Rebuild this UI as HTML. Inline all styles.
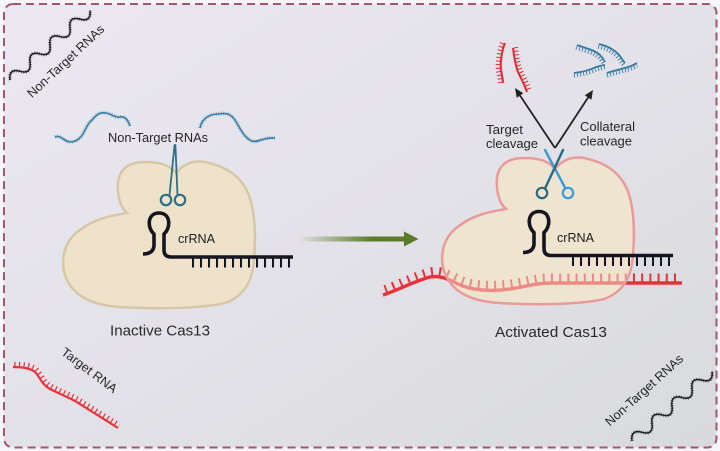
<!DOCTYPE html>
<html><head><meta charset="utf-8"><style>
html,body{margin:0;padding:0;background:#f6f5f8;}
svg{display:block;font-family:"Liberation Sans",Arial,sans-serif;}
</style></head><body>
<svg width="720" height="451" viewBox="0 0 720 451" xmlns="http://www.w3.org/2000/svg">
<defs>
<linearGradient id="bg" x1="0" y1="0" x2="1" y2="1">
<stop offset="0" stop-color="#ece8f1"/><stop offset="0.5" stop-color="#e3e2e8"/><stop offset="1" stop-color="#d9dadd"/>
</linearGradient>
<linearGradient id="ga" gradientUnits="userSpaceOnUse" x1="298" y1="0" x2="372" y2="0">
<stop offset="0" stop-color="#5b7b2a" stop-opacity="0"/><stop offset="1" stop-color="#5b7b2a" stop-opacity="1"/>
</linearGradient>
<path id="prot" d="M176,173 C170,165 160,162 145,162 C130,162 120,168 118,182 C117,195 120,207 127,213 C115,215 95,218 80,230 C65,240 60,258 65,275 C72,295 90,305 120,307 C150,309 200,309 225,303 C245,296 253,280 254,258 C256,235 255,210 248,193 C240,175 225,166 205,162 C192,160 182,165 176,173 Z"/>
<path id="wave" d="M0,0 q6.6,-10 13.25,0 t13.25,0 t13.25,0 t13.25,0 t13.25,0 t13.25,0 t13.25,0 t13.25,0"/>
<g id="cr">
<path d="M143,254 Q153,254 154,246 L154,234 C147,228 147,213 159,213 C171,213 171,228 164,234 L164,250 Q164,257 171,257 L293,257" fill="none" stroke="#15151f" stroke-width="3.6" stroke-linejoin="round"/>
<line x1="192" y1="262.5" x2="292" y2="262.5" stroke="#15151f" stroke-width="10" stroke-dasharray="2 6"/>
</g>
</defs>

<rect x="4" y="4" width="712.5" height="443.5" rx="9" fill="url(#bg)" stroke="#a4566f" stroke-width="2" stroke-dasharray="8 5"/>

<!-- top-left non target -->
<g transform="translate(10,80) rotate(-41)" fill="none" stroke="#1e1e24">
<use href="#wave" stroke-width="1.5"/>
<use href="#wave" stroke-width="3.6" stroke-dasharray="0.7 1.6" opacity="0.65"/>
</g>
<text transform="translate(65.5,61) rotate(-43)" x="0" y="4.5" text-anchor="middle" font-size="12.6" fill="#262626" textLength="100" lengthAdjust="spacingAndGlyphs">Non-Target RNAs</text>

<!-- bottom-right non target -->
<g transform="translate(632,441) rotate(-41)" fill="none" stroke="#1e1e24">
<use href="#wave" stroke-width="1.5"/>
<use href="#wave" stroke-width="3.6" stroke-dasharray="0.7 1.6" opacity="0.65"/>
</g>
<text transform="translate(644,390) rotate(-42)" x="0" y="4.5" text-anchor="middle" font-size="12.6" fill="#262626" textLength="100" lengthAdjust="spacingAndGlyphs">Non-Target RNAs</text>

<!-- bottom-left target RNA -->
<g fill="none" stroke="#e8323a">
<path d="M13,367 C22,367 30,368 35,372 C40,377 42,385 50,389 C58,393 65,396 75,401 L118,428" stroke-width="2.2"/>
<path transform="translate(1.3,-2.8)" d="M13,367 C22,367 30,368 35,372 C40,377 42,385 50,389 C58,393 65,396 75,401 L118,428" stroke-width="5" stroke-dasharray="1.2 3.4"/>
</g>
<text transform="translate(89.5,370) rotate(37)" x="0" y="4.5" text-anchor="middle" font-size="12.6" fill="#262626" textLength="66" lengthAdjust="spacingAndGlyphs">Target RNA</text>

<!-- inactive blue waves -->
<g fill="none" stroke="#3a7fa6">
<path d="M55,137 C62,134 65,145 75,141 C85,137 85,125 92,120 C97,114 100,112 106,113 C112,114 115,118 120,117 C125,116 128,120 130,126" stroke-width="1.6"/>
<path d="M55,137 C62,134 65,145 75,141 C85,137 85,125 92,120 C97,114 100,112 106,113 C112,114 115,118 120,117 C125,116 128,120 130,126" stroke-width="4" stroke-dasharray="0.7 1.6" opacity="0.6"/>
<path d="M200,128 C202,118 210,114 218,114 C226,113 230,113 235,120 C240,128 244,138 252,141 C258,143 263,137 275,138" stroke-width="1.6"/>
<path d="M200,128 C202,118 210,114 218,114 C226,113 230,113 235,120 C240,128 244,138 252,141 C258,143 263,137 275,138" stroke-width="4" stroke-dasharray="0.7 1.6" opacity="0.6"/>
</g>
<text x="108" y="142" font-size="12.6" fill="#262626" textLength="100" lengthAdjust="spacingAndGlyphs">Non-Target RNAs</text>

<!-- inactive protein -->
<use href="#prot" fill="#eee3ca" stroke="#d6c7a8" stroke-width="2.5"/>
<!-- inactive scissors -->
<g stroke="#2d6f86" fill="none" stroke-linecap="round">
<line x1="174.6" y1="145" x2="169.5" y2="195" stroke-width="1.8"/>
<line x1="175.4" y1="145" x2="177.5" y2="195" stroke-width="1.8"/>
<circle cx="166" cy="200" r="5.2" stroke-width="2.2"/>
<circle cx="180" cy="200" r="5.2" stroke-width="2.2"/>
</g>
<use href="#cr"/>
<text x="178" y="243" font-size="12.5" fill="#1e1e1e" textLength="37" lengthAdjust="spacingAndGlyphs">crRNA</text>
<text x="110" y="335.5" font-size="14.5" fill="#2a2a2a" textLength="100" lengthAdjust="spacingAndGlyphs">Inactive Cas13</text>

<!-- green arrow -->
<rect x="298" y="236.5" width="108" height="5" fill="url(#ga)"/>
<polygon points="404,231.5 418.5,239 404,246.5" fill="#5b7b2a"/>

<!-- activated protein base -->
<use href="#prot" transform="translate(379,-4)" fill="#efe4cf"/>
<!-- target RNA in activated -->
<g fill="none" stroke="#e8323a">
<path d="M383,295 C398,290 415,281 430,277 C440,275 448,279 458,284 C470,290 490,292 510,289 C525,287 535,283 550,283 L682,283" stroke-width="3.4"/>
<path transform="translate(0,-5)" d="M385,294.5 C398,290 415,281 430,277 C440,275 448,279 458,284 C470,290 490,292 510,289 C525,287 535,283 550,283 L682,283" stroke-width="9" stroke-dasharray="2 6.2"/>
</g>
<use href="#prot" transform="translate(379,-4)" fill="#efe4cf" opacity="0.5"/>
<use href="#prot" transform="translate(379,-4)" fill="none" stroke="#e99a9b" stroke-width="2.5"/>

<g transform="translate(380,-1.5)"><use href="#cr"/></g>
<text x="557" y="242" font-size="12.5" fill="#1e1e1e" textLength="37" lengthAdjust="spacingAndGlyphs">crRNA</text>
<text x="495" y="337" font-size="14.5" fill="#2a2a2a" textLength="112" lengthAdjust="spacingAndGlyphs">Activated Cas13</text>

<!-- activated scissors -->
<g fill="none" stroke-linecap="round">
<line x1="545" y1="150" x2="565.5" y2="188.5" stroke="#3a9bd6" stroke-width="2.4"/>
<line x1="563" y1="150" x2="545" y2="188.5" stroke="#2a6a80" stroke-width="2.4"/>
<circle cx="542" cy="193" r="5.2" stroke="#2a6a80" stroke-width="2.2"/>
<circle cx="568" cy="193" r="5.2" stroke="#3a9bd6" stroke-width="2.2"/>
</g>

<!-- black arrows -->
<g stroke="#222" stroke-width="1.8" fill="none">
<line x1="555" y1="148" x2="520" y2="95.5"/>
<line x1="555" y1="148" x2="588.1" y2="97.5"/>
</g>
<polygon points="515,88 523.3,93.3 516.7,97.7" fill="#222"/>
<polygon points="593,90 591.4,99.7 584.8,95.3" fill="#222"/>

<text x="486" y="134" font-size="13" fill="#262626" textLength="37" lengthAdjust="spacingAndGlyphs">Target</text>
<text x="486" y="148" font-size="13" fill="#262626" textLength="52" lengthAdjust="spacingAndGlyphs">cleavage</text>
<text x="580" y="131" font-size="13" fill="#262626" textLength="55" lengthAdjust="spacingAndGlyphs">Collateral</text>
<text x="580" y="145.5" font-size="13" fill="#262626" textLength="52" lengthAdjust="spacingAndGlyphs">cleavage</text>

<!-- red fragments -->
<g fill="none" stroke="#e02a33">
<path d="M505,43 C502,50 500,62 501,70 C502,76 503,80 503,83" stroke-width="2"/>
<path transform="translate(-2.8,0)" d="M505,43 C502,50 500,62 501,70 C502,76 503,80 503,83" stroke-width="4.5" stroke-dasharray="1 2.6"/>
<path d="M513,48 C514,56 515,64 518,72 C522,80 525,86 527,92" stroke-width="2"/>
<path transform="translate(2.8,-0.8)" d="M513,48 C514,56 515,64 518,72 C522,80 525,86 527,92" stroke-width="4.5" stroke-dasharray="1 2.6"/>
</g>
<!-- blue fragments -->
<g fill="none" stroke="#347aa6">
<path d="M577,45 C585,48 595,50 600,55 C603,58 604,60 605,62" stroke-width="1.8"/>
<path transform="translate(-0.8,2.6)" d="M577,45 C585,48 595,50 600,55 C603,58 604,60 605,62" stroke-width="4.2" stroke-dasharray="0.9 2.2"/>
<path d="M599,44 C608,46 615,50 620,56 C622,59 624,62 625,63" stroke-width="1.8"/>
<path transform="translate(-0.8,2.6)" d="M599,44 C608,46 615,50 620,56 C622,59 624,62 625,63" stroke-width="4.2" stroke-dasharray="0.9 2.2"/>
<path d="M574,73 C582,72 590,70 596,67 C600,66 603,65 605,65" stroke-width="1.8"/>
<path transform="translate(0,2.6)" d="M574,73 C582,72 590,70 596,67 C600,66 603,65 605,65" stroke-width="4.2" stroke-dasharray="0.9 2.2"/>
<path d="M607,73 C615,70 622,69 628,67 C632,66 635,64 637,63" stroke-width="1.8"/>
<path transform="translate(0,2.6)" d="M607,73 C615,70 622,69 628,67 C632,66 635,64 637,63" stroke-width="4.2" stroke-dasharray="0.9 2.2"/>
</g>
</svg>
</body></html>
